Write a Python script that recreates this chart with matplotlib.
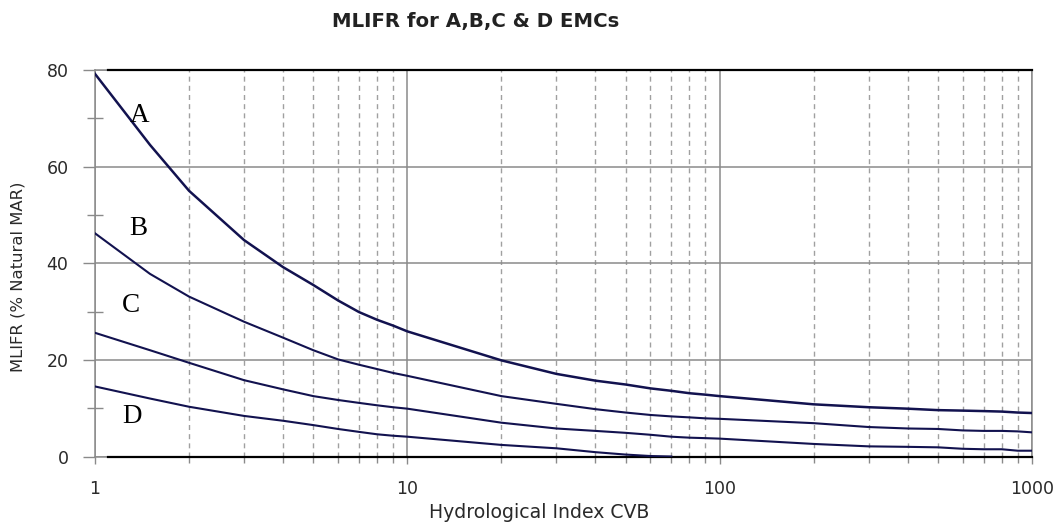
import matplotlib
matplotlib.use("Agg")
import matplotlib.pyplot as plt
from matplotlib.ticker import NullFormatter, FixedLocator

# ---- data ----
x_vals = [1, 1.5, 2, 3, 4, 5, 6, 7, 8, 9, 10, 20, 30, 40, 50, 60, 70, 80, 90,
          100, 200, 300, 400, 500, 600, 700, 800, 900, 1000]
A_vals = [79.2, 64.5, 55.0, 44.8, 39.2, 35.5, 32.3, 29.9, 28.3, 27.1, 25.9, 19.9,
          17.1, 15.7, 14.9, 14.1, 13.6, 13.1, 12.8, 12.5, 10.8, 10.2, 9.9, 9.6,
          9.5, 9.4, 9.3, 9.1, 9.0]
B_vals = [46.2, 37.8, 33.1, 27.9, 24.6, 22.0, 20.1, 19.0, 18.1, 17.3, 16.7, 12.5,
          10.9, 9.8, 9.1, 8.6, 8.3, 8.1, 7.9, 7.8, 6.9, 6.1, 5.8, 5.7, 5.4, 5.3,
          5.3, 5.2, 5.0]
C_vals = [25.6, 22.0, 19.4, 15.8, 13.9, 12.5, 11.7, 11.1, 10.6, 10.2, 9.9, 7.0,
          5.8, 5.3, 4.9, 4.5, 4.1, 3.9, 3.8, 3.7, 2.6, 2.1, 2.0, 1.9, 1.6, 1.5,
          1.5, 1.2, 1.2]
x_D = [1, 1.5, 2, 3, 4, 5, 6, 7, 8, 9, 10, 20, 30, 40, 50, 60, 70]
D_vals = [14.5, 12.0, 10.3, 8.4, 7.4, 6.5, 5.7, 5.1, 4.6, 4.3, 4.1, 2.4, 1.7, 0.9,
          0.4, 0.1, 0.0]
# black boundary lines at 0 and 80
x_bound = [1.1, 1000]
bound_low = [0, 0]
bound_high = [80, 80]

curve_labels = ["A", "B", "C", "D"]
label_x = [1.393, 1.373, 1.304, 1.313]
label_y = [69.3, 45.9, 29.9, 6.9]

x_ticks = [1, 10, 100, 1000]
x_ticklabels = ["1", "10", "100", "1000"]
y_ticks = [0, 20, 40, 60, 80]
y_minor = [10, 30, 50, 70]
x_minor = [m * d for d in (1, 10, 100) for m in range(2, 10)]

title = "MLIFR for A,B,C & D EMCs"
xlabel = "Hydrological Index CVB"
ylabel = "MLIFR (% Natural MAR)"

# ---- figure ----
fig = plt.figure(figsize=(10.55, 5.24), dpi=100)
ax = fig.add_axes([0.09005, 0.1288, 0.8882, 0.7376])
ax.set_xscale("log")
ax.set_xlim(1, 1000)
ax.set_ylim(0, 80)

grey = "#8a8a8a"
line_col = "#12124f"

ax.set_axisbelow(True)
ax.xaxis.set_major_locator(FixedLocator(x_ticks))
ax.set_xticklabels(x_ticklabels)
ax.xaxis.set_minor_locator(FixedLocator(x_minor))
ax.xaxis.set_minor_formatter(NullFormatter())
ax.set_yticks(y_ticks)
ax.set_yticks(y_minor, minor=True)

ax.grid(which="major", axis="both", color=grey, lw=1.1, ls="-")
ax.grid(which="minor", axis="x", color="#a0a0a0", lw=1.0, ls=(0, (3.6, 3.0)))

for s in ax.spines.values():
    s.set_color(grey)
    s.set_linewidth(1.1)

ax.tick_params(axis="y", which="major", direction="out", length=8.6, width=1.0,
               color=grey, pad=10.5, labelsize=12.5, labelcolor="#2a2a2a")
ax.tick_params(axis="y", which="minor", direction="inout", length=12, width=1.0,
               color=grey)
ax.tick_params(axis="x", which="major", direction="out", length=5, width=1.0,
               color=grey, pad=12, labelsize=12.5, labelcolor="#2a2a2a")
ax.tick_params(axis="x", which="minor", direction="out", length=4, width=1.0,
               color=grey)

ax.plot(x_bound, bound_low, color="black", lw=1.6, zorder=3, clip_on=False)
ax.plot(x_bound, bound_high, color="black", lw=1.6, zorder=3, clip_on=False)

ax.plot(x_vals, A_vals, color=line_col, lw=1.8, zorder=4)
ax.plot(x_vals, B_vals, color=line_col, lw=1.5, zorder=4)
ax.plot(x_vals, C_vals, color=line_col, lw=1.5, zorder=4)
ax.plot(x_D, D_vals, color=line_col, lw=1.5, zorder=4)

for lab, lx, ly in zip(curve_labels, label_x, label_y):
    ax.text(lx, ly, lab, ha="center", va="baseline", fontsize=19.5,
            family="Liberation Serif", color="black", zorder=5)

fig.text(0.451, 1 - 27 / 524, title, ha="center", va="baseline",
         fontsize=14.2, fontweight="bold", color="#222222",
         family="DejaVu Sans")
fig.text(0.511, 1 - 518 / 524, xlabel, ha="center", va="baseline",
         fontsize=13.6, color="#2a2a2a", family="DejaVu Sans")
fig.text(18 / 1055, 1 - 277 / 524, ylabel, ha="center", va="center",
         rotation=90, fontsize=11.8, color="#2a2a2a", family="DejaVu Sans")

fig.savefig("out.png", dpi=100)
